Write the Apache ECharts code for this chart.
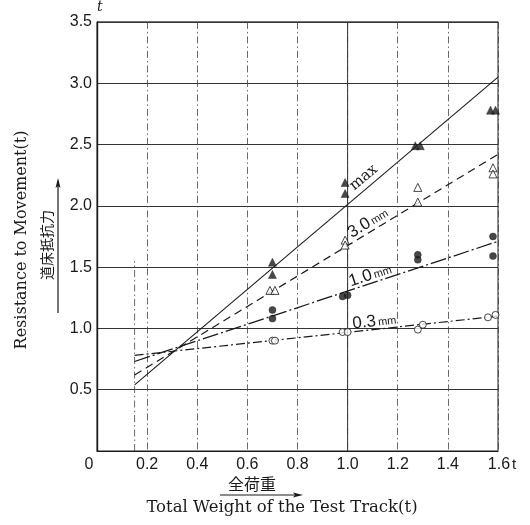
<!DOCTYPE html>
<html>
<head>
<meta charset="utf-8">
<script src="https://cdn.jsdelivr.net/npm/echarts@6/dist/echarts.min.js"></script>
<style>
  html, body { margin: 0; padding: 0; background: #fff; }
  #chart { width: 530px; height: 525px; }
</style>
</head>
<body>
<div id="chart"></div>
<script>
// Axis ticks
const xTicks = [0, 0.2, 0.4, 0.6, 0.8, 1.0, 1.2, 1.4, 1.6];
const yTicks = [0, 0.5, 1.0, 1.5, 2.0, 2.5, 3.0, 3.5];

// Measured points: total weight (t) vs. resistance to movement (t)
const maxX = [0.70, 0.70, 0.99, 0.99, 1.27, 1.29, 1.57, 1.59];
const maxY = [1.54, 1.44, 2.19, 2.10, 2.49, 2.49, 2.78, 2.78];

const mm30X = [0.69, 0.71, 0.99, 0.99, 1.28, 1.28, 1.58, 1.58];
const mm30Y = [1.31, 1.31, 1.72, 1.68, 2.15, 2.03, 2.31, 2.26];

const mm10X = [0.70, 0.70, 0.98, 1.00, 1.28, 1.28, 1.58, 1.58];
const mm10Y = [1.15, 1.08, 1.26, 1.27, 1.60, 1.56, 1.75, 1.59];

const mm03X = [0.70, 0.71, 0.98, 1.00, 1.28, 1.30, 1.56, 1.59];
const mm03Y = [0.90, 0.90, 0.97, 0.97, 0.99, 1.03, 1.09, 1.11];

// Fitted straight lines (end points)
const fitX = [0.15, 1.6];
const maxFitY = [0.54, 3.05];
const mm30FitY = [0.62, 2.42];
const mm10FitY = [0.73, 1.71];
const mm03FitY = [0.78, 1.10];

// Vertical guide at the lightest load
const guideX = 0.15;
const guideTop = 1.55;

const pairs = (xs, ys) => xs.map((x, i) => [x, ys[i]]);

const INK = '#1a1a1a';
const TICK_FONT = "'Liberation Sans', Arial, sans-serif";
const SERIF = "'DejaVu Serif', 'Liberation Serif', serif";
const CJK = "'Noto Sans CJK JP', 'Noto Sans CJK SC', sans-serif";

const chart = echarts.init(document.getElementById('chart'), null, { renderer: 'canvas' });

function fitLine(name, ys, dash, width) {
  return {
    name, type: 'line', data: pairs(fitX, ys), symbol: 'none', silent: true,
    lineStyle: { color: INK, width: width || 1.1, type: dash }, z: 3
  };
}

function points(name, xs, ys, symbol, filled, size) {
  return {
    name, type: 'scatter', data: pairs(xs, ys), symbol, symbolSize: size,
    itemStyle: filled
      ? { color: INK, borderColor: INK, borderWidth: 0.5 }
      : { color: '#fff', borderColor: INK, borderWidth: 1 },
    z: 5
  };
}

const option = {
  animation: false,
  backgroundColor: '#fff',
  grid: { left: 97, right: 32, top: 16, bottom: 74, show: true, borderColor: INK, borderWidth: 1, backgroundColor: 'transparent' },
  xAxis: {
    type: 'value', min: xTicks[0], max: xTicks[xTicks.length - 1], interval: 0.2,
    axisLine: { show: true, lineStyle: { color: INK, width: 1.2 } },
    axisTick: { show: false },
    splitLine: { show: true, lineStyle: { color: '#444', width: 0.8, type: [7, 3, 1.5, 3] } },
    axisLabel: {
      margin: 6, color: INK, fontSize: 16, fontFamily: TICK_FONT,
      formatter: v => {
        if (v === 0) return '{z|0}';
        if (Math.abs(v - 1.6) < 1e-9) return '{pad|}1.6{t|t}';
        return v.toFixed(1);
      },
      rich: {
        z: { fontSize: 16, fontFamily: TICK_FONT, color: INK, padding: [0, 16, 0, 0] },
        pad: { width: 8, fontSize: 16 },
        t: { fontSize: 15, fontFamily: TICK_FONT, color: INK, padding: [0, 0, 0, 2] }
      }
    }
  },
  yAxis: {
    type: 'value', min: yTicks[0], max: yTicks[yTicks.length - 1], interval: 0.5,
    name: 't', nameLocation: 'end', nameGap: 3,
    nameTextStyle: { align: 'left', fontStyle: 'italic', fontFamily: SERIF, fontSize: 14, color: INK },
    axisLine: { show: true, lineStyle: { color: INK, width: 1.4 } },
    axisTick: { show: false },
    splitLine: { show: true, lineStyle: { color: '#333', width: 1 } },
    axisLabel: {
      margin: 5, color: INK, fontSize: 16, fontFamily: TICK_FONT,
      formatter: v => (v === 0 ? '' : v.toFixed(1))
    }
  },
  series: [
    {
      name: 'guide', type: 'line', symbol: 'none', silent: true,
      data: [[guideX, 0], [guideX, guideTop]],
      lineStyle: { color: '#444', width: 0.8, type: [7, 3, 1.5, 3] }, z: 2
    },
    {
      // the 1.0 t grid line is drawn solid
      name: 'one-ton', type: 'line', symbol: 'none', silent: true,
      data: [[1.0, 0], [1.0, 3.5]],
      lineStyle: { color: '#333', width: 1 }, z: 1
    },
    fitLine('max', maxFitY, 'solid', 1.1),
    fitLine('3.0mm', mm30FitY, [8, 5], 1.2),
    fitLine('1.0mm', mm10FitY, [16, 3, 2, 3], 1.3),
    fitLine('0.3mm', mm03FitY, [9, 3, 2, 3], 1.2),
    points('max pts', maxX, maxY, 'triangle', true, 8),
    points('3.0mm pts', mm30X, mm30Y, 'triangle', false, 8),
    points('1.0mm pts', mm10X, mm10Y, 'circle', true, 7),
    points('0.3mm pts', mm03X, mm03Y, 'circle', false, 7)
  ]
};

chart.setOption(option);

// Labels written along each fitted line
function alongLine(ys, xAt, offset, style) {
  const p1 = chart.convertToPixel({ gridIndex: 0 }, [fitX[0], ys[0]]);
  const p2 = chart.convertToPixel({ gridIndex: 0 }, [fitX[1], ys[1]]);
  const t = (xAt - fitX[0]) / (fitX[1] - fitX[0]);
  const px = p1[0] + t * (p2[0] - p1[0]);
  const py = p1[1] + t * (p2[1] - p1[1]);
  const dx = p2[0] - p1[0], dy = p2[1] - p1[1];
  const len = Math.hypot(dx, dy);
  const nx = dy / len, ny = -dx / len;
  return {
    type: 'text', x: px + nx * offset, y: py + ny * offset,
    rotation: Math.atan2(-dy, dx),
    style: Object.assign({ align: 'center', verticalAlign: 'middle', fill: INK }, style),
    z: 10
  };
}

const numRich = {
  n: { fontSize: 17, fontFamily: TICK_FONT, fill: INK, color: INK },
  u: { fontSize: 11, fontFamily: TICK_FONT, fill: INK, color: INK, padding: [3, 0, 0, 2] }
};

const graphics = [
  alongLine(maxFitY, 1.09, 10, { text: 'max', fontSize: 15, fontFamily: SERIF }),
  alongLine(mm30FitY, 1.10, 9, { text: '{n|3.0}{u|mm}', rich: numRich }),
  alongLine(mm10FitY, 1.10, 8, { text: '{n|1.0}{u|mm}', rich: numRich }),
  alongLine(mm03FitY, 1.11, 8, { text: '{n|0.3}{u|mm}', rich: numRich }),
  // vertical axis titles
  {
    type: 'text', x: 22, y: 240, rotation: Math.PI / 2,
    style: { text: 'Resistance to Movement(t)', fontSize: 16, fontFamily: SERIF, fill: INK, align: 'center', verticalAlign: 'middle' }
  },
  {
    type: 'text', x: 47, y: 245, rotation: Math.PI / 2,
    style: { text: '道床抵抗力', fontSize: 14, fontFamily: CJK, fill: INK, align: 'center', verticalAlign: 'middle' }
  },
  { type: 'line', shape: { x1: 58, y1: 313, x2: 58, y2: 181 }, style: { stroke: INK, lineWidth: 1.2 } },
  { type: 'polygon', shape: { points: [[58, 178], [55.5, 188], [58, 186], [60.5, 188]] }, style: { fill: INK } },
  // horizontal axis titles
  {
    type: 'text', x: 252, y: 484,
    style: { text: '全荷重', fontSize: 16, fontFamily: CJK, fill: INK, align: 'center', verticalAlign: 'middle' }
  },
  { type: 'line', shape: { x1: 220, y1: 495, x2: 299, y2: 495 }, style: { stroke: INK, lineWidth: 1.2 } },
  { type: 'polygon', shape: { points: [[303, 495], [293, 492.5], [295, 495], [293, 497.5]] }, style: { fill: INK } },
  {
    type: 'text', x: 282, y: 508,
    style: { text: 'Total Weight of the Test Track(t)', fontSize: 16.5, fontFamily: SERIF, fill: INK, align: 'center', verticalAlign: 'middle' }
  }
];

chart.setOption({ graphic: graphics });
</script>
</body>
</html>
